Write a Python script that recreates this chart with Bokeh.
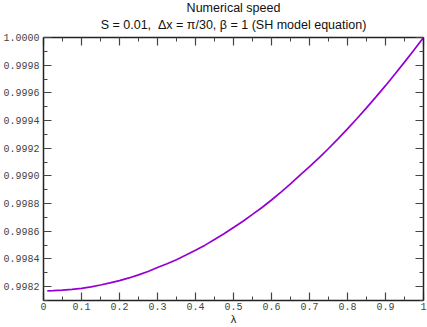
from bokeh.plotting import figure
from bokeh.models import (LinearAxis, FixedTicker, PrintfTickFormatter,
                          CustomJSTickFormatter, Title, Range1d)
from bokeh.embed import file_html
from bokeh.resources import INLINE

# data
lam = [0.01, 0.025, 0.05, 0.075, 0.10, 0.125, 0.15, 0.175, 0.20, 0.225,
       0.25, 0.275, 0.30, 0.325, 0.35, 0.375, 0.40, 0.425, 0.45, 0.475,
       0.50, 0.525, 0.55, 0.575, 0.60, 0.625, 0.65, 0.675, 0.70, 0.725,
       0.75, 0.775, 0.80, 0.825, 0.85, 0.875, 0.90, 0.925, 0.95, 0.975, 1.00]
speed = [0.998170, 0.998171, 0.998175, 0.998180, 0.998188, 0.998199,
         0.998212, 0.998227, 0.998244, 0.998263, 0.998285, 0.998310,
         0.998338, 0.998365, 0.998395, 0.998428, 0.998463, 0.998500,
         0.998540, 0.998582, 0.998627, 0.998673, 0.998722, 0.998772,
         0.998826, 0.998883, 0.998942, 0.999006, 0.999067, 0.999131,
         0.999198, 0.999268, 0.999340, 0.999415, 0.999492, 0.999571,
         0.999652, 0.999736, 0.999822, 0.999910, 1.000000]

x_ticks = [0.0, 0.1, 0.2, 0.3, 0.4, 0.5, 0.6, 0.7, 0.8, 0.9, 1.0]
x_minor = [0.05, 0.15, 0.25, 0.35, 0.45, 0.55, 0.65, 0.75, 0.85, 0.95]
y_ticks = [0.9982, 0.9984, 0.9986, 0.9988, 0.9990, 0.9992, 0.9994,
           0.9996, 0.9998, 1.0000]
y_minor = [0.9981, 0.9983, 0.9985, 0.9987, 0.9989, 0.9991, 0.9993,
           0.9995, 0.9997, 0.9999]

title_main = "Numerical speed"
title_sub = "S = 0.01,\u00a0 \u0394x = \u03c0/30, \u03b2 = 1 (SH model equation)"
x_label = "\u03bb"

p = figure(width=427, height=327, output_backend="svg", toolbar_location=None,
           x_range=Range1d(0, 1), y_range=Range1d(0.9981, 1.0),
           min_border_left=42, min_border_right=4, min_border_top=37,
           min_border_bottom=24, title=None,
           styles={"position": "absolute", "left": "0px", "top": "0px"})
p.grid.visible = False
p.outline_line_color = None
p.background_fill_color = "white"
p.border_fill_color = "white"

p.line(lam, speed, line_color="#9400d3", line_width=1.7)

xtick = FixedTicker(ticks=x_ticks, minor_ticks=x_minor)
ytick = FixedTicker(ticks=y_ticks, minor_ticks=y_minor)
xfmt = CustomJSTickFormatter(code="return String(parseFloat(tick.toFixed(2)));")
yfmt = PrintfTickFormatter(format="%.4f")


def style(ax, labels=True):
    ax.axis_line_color = "#222222"
    ax.axis_line_width = 1.5
    ax.major_tick_line_color = "#444444"
    ax.minor_tick_line_color = "#444444"
    ax.major_tick_line_width = 1.2
    ax.minor_tick_line_width = 1.0
    ax.major_tick_in = 8
    ax.major_tick_out = 0
    ax.minor_tick_in = 4
    ax.minor_tick_out = 0
    if labels:
        ax.major_label_text_font = "Liberation Mono"
        ax.major_label_text_font_size = "10px"
        ax.major_label_text_color = "#444444"
        ax.major_label_standoff = 3
    else:
        ax.major_label_text_font_size = "0px"
        ax.major_label_standoff = 0


xa = p.xaxis[0]
xa.ticker = xtick
xa.formatter = xfmt
style(xa)
xa.major_label_standoff = 2
xa.axis_label = x_label
xa.axis_label_text_font = "Liberation Sans"
xa.axis_label_text_font_style = "normal"
xa.axis_label_text_font_size = "11px"
xa.axis_label_text_color = "#222222"
xa.axis_label_standoff = 0

ya = p.yaxis[0]
ya.ticker = ytick
ya.formatter = yfmt
style(ya)
ya.major_label_standoff = 4

top = LinearAxis(ticker=FixedTicker(ticks=x_ticks, minor_ticks=x_minor),
                 formatter=CustomJSTickFormatter(code="return '';"))
style(top, labels=False)
p.add_layout(top, "above")

right = LinearAxis(ticker=FixedTicker(ticks=y_ticks, minor_ticks=y_minor),
                   formatter=CustomJSTickFormatter(code="return '';"))
style(right, labels=False)
p.add_layout(right, "right")

p.add_layout(Title(text=title_sub, align="center", text_font="Liberation Sans",
                   text_font_size="12.5px", text_font_style="normal",
                   text_color="#111111", standoff=11), "above")
p.add_layout(Title(text=title_main, align="center", text_font="Liberation Sans",
                   text_font_size="12.5px", text_font_style="normal",
                   text_color="#111111", standoff=-9), "above")

open("out.html", "w").write(file_html(p, INLINE))
